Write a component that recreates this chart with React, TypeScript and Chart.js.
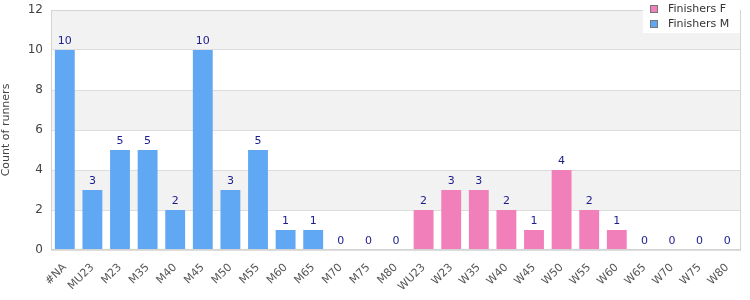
import React, { useEffect, useRef } from "react";
import { Chart, registerables } from "chart.js";

Chart.register(...registerables);

const categories = ["#NA", "MU23", "M23", "M35", "M40", "M45", "M50", "M55", "M60", "M65", "M70", "M75", "M80",
  "WU23", "W23", "W35", "W40", "W45", "W50", "W55", "W60", "W65", "W70", "W75", "W80"];
const finishersM = [10, 3, 5, 5, 2, 10, 3, 5, 1, 1, 0, 0, 0, null, null, null, null, null, null, null, null, null, null, null, null];
const finishersF = [null, null, null, null, null, null, null, null, null, null, null, null, null, 2, 3, 3, 2, 1, 4, 2, 1, 0, 0, 0, 0];
const yTicks = [0, 2, 4, 6, 8, 10, 12];

const BLUE = "rgb(96,168,243)";
const PINK = "rgb(241,128,186)";
const FONT = "'DejaVu Sans', sans-serif";

const bandsPlugin = {
  id: "bands",
  beforeDraw(chart: any) {
    const { ctx, chartArea } = chart;
    const y = chart.scales.y;
    ctx.save();
    for (let i = 0; i < yTicks.length - 1; i++) {
      const top = y.getPixelForValue(yTicks[i + 1]);
      const bot = y.getPixelForValue(yTicks[i]);
      ctx.fillStyle = i % 2 === 1 ? "#f2f2f2" : "#ffffff";
      ctx.fillRect(chartArea.left, top, chartArea.right - chartArea.left, bot - top);
    }
    ctx.restore();
  },
  afterDraw(chart: any) {
    const { ctx, chartArea } = chart;
    ctx.save();
    ctx.strokeStyle = "#d4d4d4";
    ctx.lineWidth = 1;
    ctx.strokeRect(chartArea.left + 0.5, chartArea.top + 0.5, chartArea.right - chartArea.left - 1, chartArea.bottom - chartArea.top - 1);
    // value labels
    ctx.font = "11px " + FONT;
    ctx.fillStyle = "#1c1c8c";
    ctx.textAlign = "center";
    ctx.textBaseline = "bottom";
    chart.data.datasets.forEach((ds: any, di: number) => {
      const meta = chart.getDatasetMeta(di);
      meta.data.forEach((bar: any, i: number) => {
        const v = ds.data[i];
        if (v === null || v === undefined) return;
        ctx.fillText(String(v), bar.x, bar.y - 3);
      });
    });
    // legend
    const items = [
      { label: "Finishers F", color: PINK },
      { label: "Finishers M", color: BLUE },
    ];
    const lx = 643, ly = 0, lw = 97, lh = 33;
    ctx.fillStyle = "#ffffff";
    ctx.fillRect(lx, ly, lw, lh);
    ctx.font = "11px " + FONT;
    ctx.textAlign = "left";
    ctx.textBaseline = "middle";
    items.forEach((it, k) => {
      const cy = 9 + k * 15;
      ctx.fillStyle = it.color;
      ctx.fillRect(650, cy - 4, 8, 8);
      ctx.strokeStyle = "#777";
      ctx.strokeRect(650.5, cy - 3.5, 7, 7);
      ctx.fillStyle = "#333";
      ctx.fillText(it.label, 668, cy);
    });
    ctx.restore();
  },
};

export default function App() {
  const ref = useRef<HTMLCanvasElement>(null);
  useEffect(() => {
    document.body.style.margin = "0";
    const chart = new Chart(ref.current!, {
      type: "bar",
      data: {
        labels: categories,
        datasets: [
          { label: "Finishers F", data: finishersF, backgroundColor: PINK, barPercentage: 0.72, categoryPercentage: 1 },
          { label: "Finishers M", data: finishersM, backgroundColor: BLUE, barPercentage: 0.72, categoryPercentage: 1 },
        ],
      },
      options: {
        animation: false,
        responsive: false,
        layout: { padding: { top: 10, right: 9, left: 0, bottom: 0 } },
        plugins: { legend: { display: false }, tooltip: { enabled: false } },
        scales: {
          x: {
            stacked: true,
            grid: { display: false },
            border: { display: false },
            ticks: { minRotation: 45, maxRotation: 45, color: "#555", font: { family: FONT, size: 11 }, autoSkip: false },
            afterFit: (s: any) => { s.height = 50; s.paddingLeft = 0; s.paddingRight = 0; },
          },
          y: {
            stacked: false,
            min: 0,
            max: 12,
            grid: { color: "#dddddd", drawTicks: false },
            border: { display: false },
            ticks: { stepSize: 2, color: "#444", font: { family: FONT, size: 12 }, padding: 8 },
            title: { display: true, text: "Count of runners", color: "#444", font: { family: FONT, size: 11 }, padding: { top: 0, bottom: 0 } },
            afterFit: (s: any) => { s.width = 51; s.paddingTop = 0; s.paddingBottom = 0; },
          },
        },
      },
      plugins: [bandsPlugin],
    });
    return () => chart.destroy();
  }, []);
  return (
    <div style={{ width: 750, height: 300 }}>
      <canvas ref={ref} width={750} height={300} />
    </div>
  );
}
